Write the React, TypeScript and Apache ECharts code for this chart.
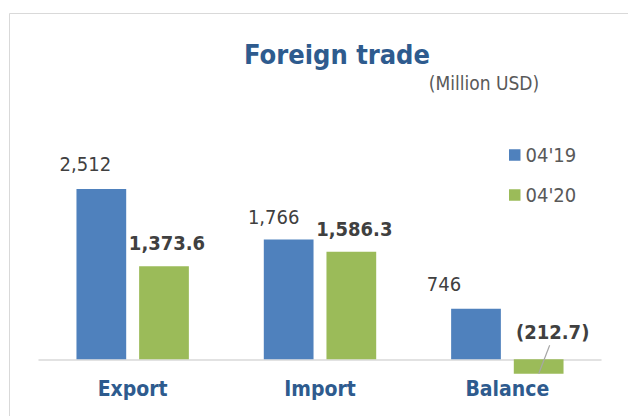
import React, { useEffect, useRef } from "react";
import * as echarts from "echarts";

const categories = ["Export", "Import", "Balance"];
const seriesNames = ["04'19", "04'20"];
const values2019 = [2512, 1766, 746];
const values2020 = [1373.6, 1586.3, -212.7];
const offsets2019: [number, number][] = [[-16, -10], [-15, -8], [-32, -10]];
const offsets2020: [number, number][] = [[3, -8], [3, -8], [14, -12]];

const FONT = "'DejaVu Sans Condensed', 'DejaVu Sans', sans-serif";

function fmt2019(v: number) {
  return v.toLocaleString("en-US", { maximumFractionDigits: 0 });
}
function fmt2020(v: number) {
  const s = Math.abs(v).toLocaleString("en-US", { minimumFractionDigits: 1, maximumFractionDigits: 1 });
  return v < 0 ? `(${s})` : s;
}

export default function App() {
  const ref = useRef<HTMLDivElement>(null);
  useEffect(() => {
    if (!ref.current) return;
    const chart = echarts.init(ref.current, undefined, { renderer: "svg" });
    const baseGraphics: any[] = [
      {
        type: "rect",
        shape: { x: 9.5, y: 13.5, width: 700, height: 500 },
        style: { fill: "none", stroke: "#d9d9d9", lineWidth: 1 },
        silent: true,
      },
      {
        type: "text",
        x: 337,
        y: 54.5,
        style: {
          text: "Foreign trade",
          fill: "#2e5b8e",
          font: `bold 27px ${FONT}`,
          textAlign: "center",
          textVerticalAlign: "middle",
        },
      },
      {
        type: "text",
        x: 484,
        y: 83,
        style: {
          text: "(Million USD)",
          fill: "#595959",
          font: `19px ${FONT}`,
          textAlign: "center",
          textVerticalAlign: "middle",
        },
      },
    ];
    chart.setOption({
      animation: false,
      backgroundColor: "#ffffff",
      textStyle: { fontFamily: FONT },
      graphic: baseGraphics,
      legend: {
        orient: "vertical",
        left: 509,
        top: 143,
        padding: 0,
        itemWidth: 11.5,
        itemHeight: 11.5,
        itemGap: 16,
        icon: "rect",
        data: seriesNames,
        textStyle: { color: "#595959", fontSize: 20, lineHeight: 24, fontFamily: FONT },
      },
      grid: { left: 39, right: 27, top: 155.9, bottom: 22.8, outerBoundsMode: "none", containLabel: false },
      xAxis: {
        type: "category",
        data: categories,
        axisLine: { onZero: true, lineStyle: { color: "#d9d9d9", width: 1.5 } },
        axisTick: { show: false },
        axisLabel: {
          color: "#2e5b8e",
          fontWeight: "bold",
          fontSize: 21,
          margin: -15,
          fontFamily: FONT,
        },
      },
      yAxis: {
        type: "value",
        min: -500,
        max: 3000,
        show: false,
        splitLine: { show: false },
      },
      series: [
        {
          name: seriesNames[0],
          type: "bar",
          barGap: "26%",
          barCategoryGap: "40%",
          itemStyle: { color: "#4f81bd" },
          data: values2019.map((v, i) => ({
            value: v,
            label: { offset: offsets2019[i] },
          })),
          label: {
            show: true,
            position: "top",
            color: "#404040",
            fontSize: 20,
            fontFamily: FONT,
            formatter: (p: any) => fmt2019(p.value),
          },
        },
        {
          name: seriesNames[1],
          type: "bar",
          barGap: "26%",
          barCategoryGap: "40%",
          itemStyle: { color: "#9bbb59" },
          data: values2020.map((v, i) => ({
            value: v,
            label: { offset: offsets2020[i] },
          })),
          label: {
            show: true,
            position: "top",
            color: "#404040",
            fontSize: 20,
            fontWeight: "bold",
            fontFamily: FONT,
            formatter: (p: any) => fmt2020(p.value),
          },
        },
      ],
    });

    try {
      const data = (chart as any).getModel().getSeriesByIndex(1).getData();
      const lines: any[] = [];
      values2020.forEach((v, i) => {
        if (v >= 0) return;
        const lay = data.getItemLayout(i);
        const cx = lay.x + lay.width / 2;
        const yTop = Math.min(lay.y, lay.y + lay.height);
        const yBot = Math.max(lay.y, lay.y + lay.height);
        const off = offsets2020[i];
        lines.push({
          type: "line",
          silent: true,
          z: 100,
          shape: { x1: cx, y1: yBot, x2: cx + off[0] - 3, y2: yTop - 5 + off[1] + 3 },
          style: { stroke: "#a6a6a6", lineWidth: 1.2 },
        });
      });
      chart.setOption({ graphic: [...baseGraphics, ...lines] });
    } catch (e) {
      // ignore
    }
    return () => chart.dispose();
  }, []);
  return (
    <div
      ref={ref}
      style={{ position: "fixed", left: 0, top: 0, width: 628, height: 416 }}
    />
  );
}
